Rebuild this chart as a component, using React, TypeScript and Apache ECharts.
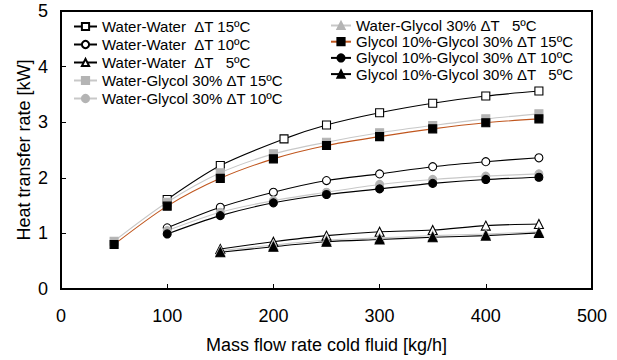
import React, { useEffect, useRef } from "react";
import * as echarts from "echarts";

const xWW15 = [100, 150, 210, 250, 300, 350, 400, 450];
const yWW15 = [1.61, 2.22, 2.7, 2.95, 3.17, 3.34, 3.47, 3.56];
const xFull = [50, 100, 150, 200, 250, 300, 350, 400, 450];
const yWG15 = [0.86, 1.56, 2.09, 2.43, 2.64, 2.81, 2.94, 3.06, 3.15];
const yGG15 = [0.8, 1.49, 1.99, 2.34, 2.58, 2.74, 2.88, 2.99, 3.06];
const x10 = [100, 150, 200, 250, 300, 350, 400, 450];
const yWW10 = [1.1, 1.47, 1.74, 1.95, 2.07, 2.2, 2.29, 2.36];
const yWG10 = [1.05, 1.38, 1.59, 1.74, 1.88, 1.97, 2.03, 2.07];
const yGG10 = [0.99, 1.32, 1.55, 1.7, 1.8, 1.9, 1.97, 2.01];
const x5 = [150, 200, 250, 300, 350, 400, 450];
const yWW5 = [0.72, 0.85, 0.96, 1.03, 1.06, 1.14, 1.17];
const yWG5 = [0.69, 0.79, 0.88, 0.92, 0.96, 0.99, 1.03];
const yGG5 = [0.66, 0.76, 0.85, 0.89, 0.93, 0.96, 1.01];

const names = [
  "Water-Water  ΔT 15ºC",
  "Water-Water  ΔT 10ºC",
  "Water-Water  ΔT   5ºC",
  "Water-Glycol 30% ΔT 15ºC",
  "Water-Glycol 30% ΔT 10ºC",
  "Water-Glycol 30% ΔT   5ºC",
  "Glycol 10%-Glycol 30% ΔT 15ºC",
  "Glycol 10%-Glycol 30% ΔT 10ºC",
  "Glycol 10%-Glycol 30% ΔT   5ºC",
];

const zip = (xs: number[], ys: number[]) => xs.map((x, i) => [x, ys[i]]);

export default function App() {
  const ref = useRef<HTMLDivElement>(null);
  useEffect(() => {
    if (!ref.current) return;
    const chart = echarts.init(ref.current, undefined, { renderer: "svg" });
    const font = "Liberation Sans, Arial, sans-serif";
    const GRAY_L = "#c8c8c8";
    const GRAY_M = "#b4b4b4";
    const mk = (
      name: string,
      xs: number[],
      ys: number[],
      symbol: string,
      lineColor: string,
      fill: string,
      border: string,
      size: number
    ) => ({
      type: "line",
      name,
      data: zip(xs, ys),
      smooth: 0.3,
      symbol,
      symbolSize: size,
      showAllSymbol: true,
      lineStyle: { color: lineColor, width: 1.1 },
      itemStyle: { color: fill, borderColor: border, borderWidth: 1.1 },
      emphasis: { disabled: true },
    });
    const tri = "triangle";
    const legendText = { fontFamily: font, fontSize: 15, color: "#000", lineHeight: 15 };
    chart.setOption({
      animation: false,
      grid: {
        left: 61,
        right: 25,
        top: 11,
        bottom: 71,
        show: true,
        borderColor: "#000",
        borderWidth: 2,
      },
      legend: [
        {
          data: names.slice(0, 5),
          orient: "vertical",
          left: 68,
          top: 14,
          itemWidth: 23,
          itemHeight: 9,
          itemGap: 3,
          textStyle: legendText,
          selectedMode: false,
        },
        {
          data: names.slice(5),
          orient: "vertical",
          left: 325,
          top: 13,
          itemWidth: 20,
          itemHeight: 9,
          itemGap: 1.2,
          textStyle: legendText,
          selectedMode: false,
        },
      ],
      xAxis: {
        type: "value",
        min: 0,
        max: 500,
        interval: 100,
        name: "Mass flow rate cold fluid [kg/h]",
        nameLocation: "middle",
        nameGap: 47,
        nameMoveOverlap: false,
        nameTextStyle: { fontFamily: font, fontSize: 18, color: "#000" },
        axisLine: { lineStyle: { color: "#000", width: 2 } },
        axisTick: { inside: true, length: 5, lineStyle: { color: "#000", width: 1 } },
        axisLabel: { fontFamily: font, fontSize: 18, color: "#000", margin: 18 },
        splitLine: { show: false },
      },
      yAxis: {
        type: "value",
        min: 0,
        max: 5,
        interval: 1,
        name: "Heat transfer rate [kW]",
        nameLocation: "middle",
        nameGap: 28,
        nameMoveOverlap: false,
        nameTextStyle: { fontFamily: font, fontSize: 18, color: "#000" },
        axisLine: { lineStyle: { color: "#000", width: 2 } },
        axisTick: { inside: true, length: 5, lineStyle: { color: "#000", width: 1 } },
        axisLabel: { fontFamily: font, fontSize: 18, color: "#000", margin: 13 },
        splitLine: { show: false },
      },
      series: [
        mk(names[0], xWW15, yWW15, "rect", "#000", "#fff", "#000", 8),
        mk(names[1], x10, yWW10, "circle", "#000", "#fff", "#000", 8),
        mk(names[2], x5, yWW5, tri, "#000", "#fff", "#000", 9),
        mk(names[3], xFull, yWG15, "rect", GRAY_L, GRAY_M, GRAY_M, 8),
        mk(names[4], x10, yWG10, "circle", GRAY_L, GRAY_M, GRAY_M, 8),
        mk(names[5], x5, yWG5, tri, GRAY_L, GRAY_M, GRAY_M, 9),
        mk(names[6], xFull, yGG15, "rect", "#c0561e", "#000", "#000", 8),
        mk(names[7], x10, yGG10, "circle", "#000", "#000", "#000", 8),
        mk(names[8], x5, yGG5, tri, "#000", "#000", "#000", 9),
      ],
    });
    return () => chart.dispose();
  }, []);
  return (
    <div
      ref={ref}
      style={{ position: "absolute", left: 0, top: 0, width: 617, height: 360 }}
    />
  );
}
